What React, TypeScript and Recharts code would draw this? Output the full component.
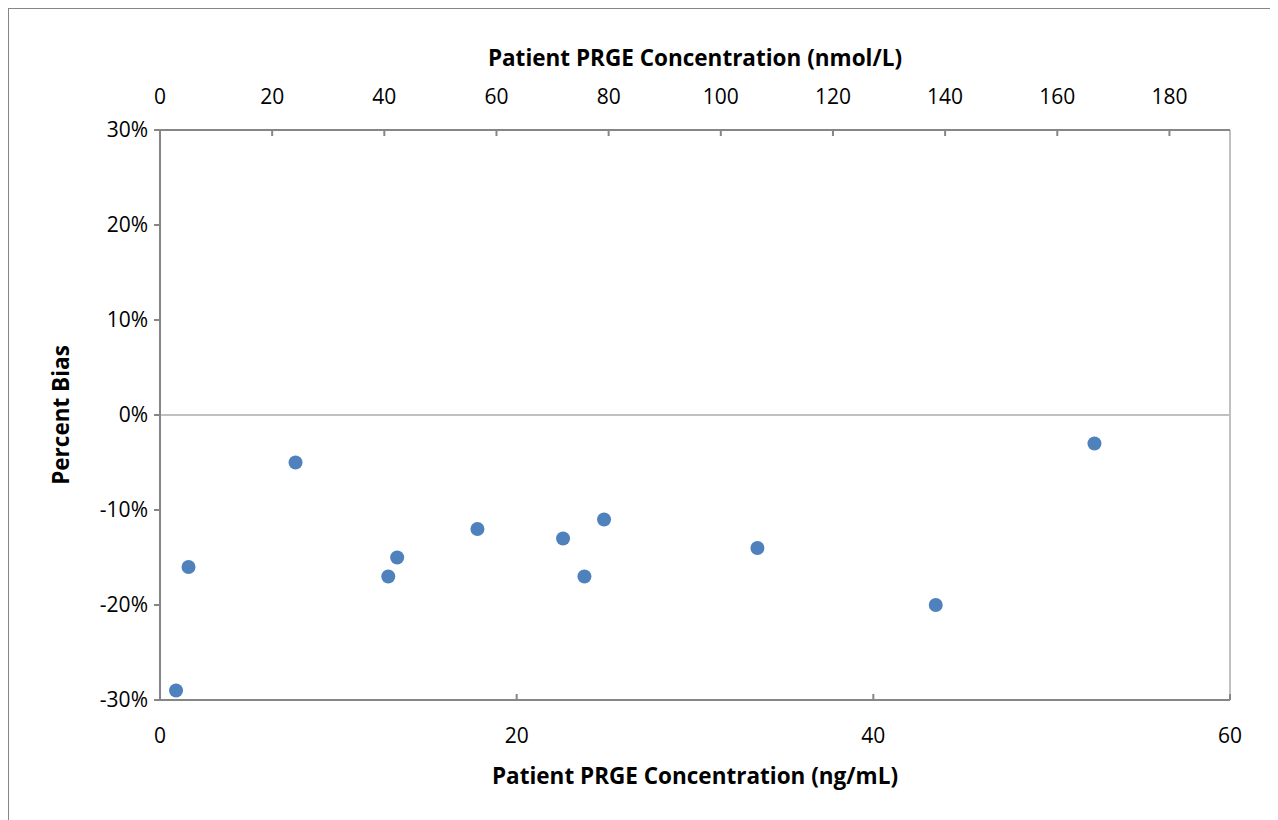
import React from 'react';
import {
  ScatterChart,
  Scatter,
  XAxis,
  YAxis,
  ReferenceLine,
} from 'recharts';

// concentrations (ng/mL) and percent bias
const concNgMl = [0.9, 1.6, 7.6, 12.8, 13.3, 17.8, 22.6, 23.8, 24.9, 33.5, 43.5, 52.4];
const biasPct = [-29, -16, -5, -17, -15, -12, -13, -17, -11, -14, -20, -3];

const NMOL_PER_NG = 3.18; // progesterone, 1 ng/mL = 3.18 nmol/L

const bottomTicks = [0, 20, 40, 60];
const topTicks = [0, 20, 40, 60, 80, 100, 120, 140, 160, 180];
const yTicks = [-30, -20, -10, 0, 10, 20, 30];

const data = concNgMl.map((x, i) => ({ x, y: biasPct[i] }));
const dataNmol = concNgMl.map((x, i) => ({ x: x * NMOL_PER_NG, y: biasPct[i] }));

const FONT = '"Open Sans", sans-serif';
const AXIS = '#868686';

const BottomTick = (props: any) => {
  const { x, y, payload } = props;
  return (
    <g>
      <line x1={x} y1={y} x2={x} y2={y - 6} stroke={AXIS} strokeWidth={2} />
      <text x={x} y={y + 35} textAnchor="middle" dominantBaseline="central" fontSize={21} fill="#000" fontFamily={FONT}>
        {payload.value}
      </text>
    </g>
  );
};

const TopTick = (props: any) => {
  const { x, y, payload } = props;
  return (
    <g>
      <line x1={x} y1={y} x2={x} y2={y + 6} stroke={AXIS} strokeWidth={2} />
      <text x={x} y={y - 34} textAnchor="middle" dominantBaseline="central" fontSize={21} fill="#000" fontFamily={FONT}>
        {payload.value}
      </text>
    </g>
  );
};

export default function App() {
  return (
    <div style={{ width: 1290, height: 830, border: `1.5px solid ${AXIS}`, background: '#fff' }}>
      <ScatterChart
        width={1268}
        height={810}
        margin={{ top: 41, right: 47, bottom: 19, left: 20 }}
      >
        <XAxis
          xAxisId="bottom"
          dataKey="x"
          type="number"
          orientation="bottom"
          domain={[0, 60]}
          ticks={bottomTicks}
          height={100}
          tickSize={0}
          tickMargin={0}
          tickLine={false}
          axisLine={{ stroke: AXIS, strokeWidth: 2 }}
          tick={<BottomTick />}
          interval={0}
          label={(p: any) => {
            const vb = p.viewBox;
            return (
              <text x={vb.x + vb.width / 2} y={vb.y + 75} textAnchor="middle" dominantBaseline="central" fontSize={22.5} fontWeight="bold" fontFamily={FONT} fill="#000">
                Patient PRGE Concentration (ng/mL)
              </text>
            );
          }}
        />
        <XAxis
          xAxisId="top"
          dataKey="x"
          type="number"
          orientation="top"
          domain={[0, 60 * NMOL_PER_NG]}
          ticks={topTicks}
          allowDataOverflow
          height={80}
          tickSize={0}
          tickMargin={0}
          tickLine={false}
          axisLine={{ stroke: AXIS, strokeWidth: 2 }}
          tick={<TopTick />}
          interval={0}
          label={(p: any) => {
            const vb = p.viewBox;
            return (
              <text x={vb.x + vb.width / 2} y={vb.y + vb.height - 73} textAnchor="middle" dominantBaseline="central" fontSize={22.5} fontWeight="bold" fontFamily={FONT} fill="#000">
                Patient PRGE Concentration (nmol/L)
              </text>
            );
          }}
        />
        <YAxis
          dataKey="y"
          type="number"
          domain={[-30, 30]}
          ticks={yTicks}
          width={131}
          tickSize={6}
          tickMargin={6}
          tickLine={{ stroke: AXIS, strokeWidth: 2 }}
          axisLine={{ stroke: AXIS, strokeWidth: 2 }}
          tick={{ fontSize: 21, fill: '#000', fontFamily: FONT }}
          tickFormatter={(v: number) => `${v}%`}
          interval={0}
          label={(p: any) => {
            const vb = p.viewBox;
            const cx = vb.x + 31;
            const cy = vb.y + vb.height / 2;
            return (
              <text x={cx} y={cy} transform={`rotate(-90 ${cx} ${cy})`} textAnchor="middle" dominantBaseline="central" fontSize={22.5} fontWeight="bold" fontFamily={FONT} fill="#000">
                Percent Bias
              </text>
            );
          }}
        />
        <ReferenceLine y={0} xAxisId="bottom" stroke="#c0c0c0" strokeWidth={2} />
        <ReferenceLine x={60} xAxisId="bottom" stroke="#c0c0c0" strokeWidth={2} />
        {/* secondary (nmol/L) series: same samples, drives the top axis only */}
        <Scatter
          data={dataNmol}
          xAxisId="top"
          shape={() => <g />}
          isAnimationActive={false}
        />
        <Scatter
          data={data}
          xAxisId="bottom"
          fill="#4f81bd"
          shape={(p: any) => <circle cx={p.cx} cy={p.cy} r={7} fill="#4f81bd" />}
          isAnimationActive={false}
        />
      </ScatterChart>
    </div>
  );
}
